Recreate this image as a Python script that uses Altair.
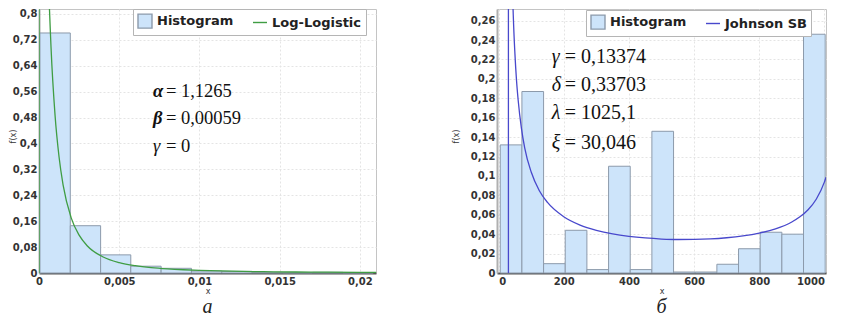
import altair as alt
import pandas as pd

# ---------------- Panel "а": Log-Logistic ----------------
a_bin_start = [0.00006, 0.00195, 0.00384, 0.00572, 0.00761, 0.0095, 0.01139, 0.01328, 0.01517, 0.01705, 0.01894]
a_bin_end = [0.00195, 0.00384, 0.00572, 0.00761, 0.0095, 0.01139, 0.01328, 0.01517, 0.01705, 0.01894, 0.02083]
a_freq = [0.741, 0.146, 0.056, 0.021, 0.0145, 0.006, 0.005, 0.002, 0.001, 0.002, 0.001]

a_curve_x = [0.0, 0.000001, 0.0001, 0.0003, 0.0005, 0.00075, 0.001, 0.00125, 0.0015, 0.002, 0.0025,
             0.003, 0.004, 0.005, 0.006, 0.007, 0.008, 0.009, 0.010, 0.012, 0.014, 0.016, 0.018,
             0.020, 0.021]
a_curve_y = [0.0, 1.61, 2.23, 1.538, 1.054, 0.696, 0.487, 0.358, 0.272, 0.171, 0.117,
             0.0843, 0.0495, 0.0322, 0.0226, 0.0166, 0.0127, 0.0100, 0.0081, 0.0056, 0.0041, 0.0031, 0.0024,
             0.0019, 0.0018]

a_sym = ["α", "β", "γ"]
a_val = ["= 1,1265", "= 0,00059", "= 0"]
a_bold = [True, True, False]
a_txt_x = [0.0071, 0.0071, 0.0071]
a_txt_y = [0.561, 0.478, 0.392]

a_xticks = [0, 0.005, 0.01, 0.015, 0.02]
a_yticks = [0, 0.08, 0.16, 0.24, 0.32, 0.4, 0.48, 0.56, 0.64, 0.72, 0.8]
a_legend = ["Histogram", "Log-Logistic"]

# ---------------- Panel "б": Johnson SB ----------------
b_bin_start = [5, 71.5, 138, 204.5, 271, 337.5, 404, 470.5, 537, 603.5, 670, 736.5, 803, 869.5, 936]
b_bin_end = [71.5, 138, 204.5, 271, 337.5, 404, 470.5, 537, 603.5, 670, 736.5, 803, 869.5, 936, 1002.5]
b_freq = [0.132, 0.187, 0.0096, 0.044, 0.0035, 0.110, 0.0035, 0.146, 0.001, 0.001, 0.009, 0.025, 0.042, 0.040, 0.246]

b_curve_x = [30.046, 30.047, 30.1, 31, 35, 40, 45, 50, 55, 60, 70, 80, 100, 125, 150, 200, 250, 300,
             350, 400, 450, 500, 550, 600, 650, 700, 750, 800, 850, 900, 925, 950, 975, 1000, 1005]
b_curve_y = [0.0, 0.31, 1.03, 0.80, 0.456, 0.329, 0.265, 0.226, 0.198, 0.178, 0.149, 0.129, 0.104, 0.0848,
             0.0727, 0.0580, 0.0494, 0.0440, 0.0403, 0.0378, 0.0361, 0.0350, 0.0345, 0.0346, 0.0351,
             0.0363, 0.0382, 0.0411, 0.0455, 0.0526, 0.0579, 0.0652, 0.0760, 0.0936, 0.0986]

b_sym = ["γ", "δ", "λ", "ξ"]
b_val = ["= 0,13374", "= 0,33703", "= 1025,1", "= 30,046"]
b_bold = [False, False, False, False]
b_txt_x = [163, 163, 163, 163]
b_txt_y = [0.2227, 0.1937, 0.1647, 0.1341]

b_xticks = [0, 200, 400, 600, 800, 1000]
b_yticks = [0, 0.02, 0.04, 0.06, 0.08, 0.1, 0.12, 0.14, 0.16, 0.18, 0.2, 0.22, 0.24, 0.26]
b_legend = ["Histogram", "Johnson SB"]

# ---------------- styling ----------------
LBL = "replace(format(datum.value, '~g'), '.', ',')"
SANS = "DejaVu Sans"
SERIF = "Liberation Serif"
BAR_FILL = "#cde4fa"
BAR_STROKE = "#8c9aab"
GREEN = "#3f9d43"
BLUE = "#4848cc"


def panel(bin_start, bin_end, freq, cx, cy, syms, vals, bold, tx, ty,
          xdom, ydom, xticks, yticks, legend_names, curve_color, legend_x, legend_y,
          sym_size, dx, caption, width, height, ytitle_x, xflush):
    def X(f):
        return alt.X(f, type="quantitative",
                     scale=alt.Scale(domain=xdom, nice=False, zero=False),
                     axis=alt.Axis(values=xticks, labelExpr=LBL, title="x", labelFlush=xflush))

    def Y(f):
        return alt.Y(f, type="quantitative",
                     scale=alt.Scale(domain=ydom, nice=False, zero=False),
                     axis=alt.Axis(values=yticks, labelExpr=LBL, title="f(x)",
                                   titleX=ytitle_x, titleY=127))

    bars_df = pd.DataFrame({"x0": bin_start, "x1": bin_end, "f": freq})
    bars = alt.Chart(bars_df).mark_bar(fill=BAR_FILL, stroke=BAR_STROKE, strokeWidth=1).encode(
        x=X("x0"), x2="x1", y=Y("f"), y2=alt.datum(0))

    curve_df = pd.DataFrame({"cx": cx, "cy": cy})
    curve = alt.Chart(curve_df).mark_line(color=curve_color, strokeWidth=1.3, clip=True,
                                          interpolate="monotone").encode(x=X("cx"), y=Y("cy"))

    txt_df = pd.DataFrame({"tx": tx, "ty": ty, "sym": syms, "val": vals, "bold": bold})
    sym_b = alt.Chart(txt_df).transform_filter("datum.bold").mark_text(
        align="left", baseline="middle", font=SERIF, fontSize=sym_size, fontStyle="italic",
        fontWeight="bold", color="#111").encode(x=X("tx"), y=Y("ty"), text="sym:N")
    sym_i = alt.Chart(txt_df).transform_filter("!datum.bold").mark_text(
        align="left", baseline="middle", font=SERIF, fontSize=sym_size, fontStyle="italic",
        fontWeight="normal", color="#111").encode(x=X("tx"), y=Y("ty"), text="sym:N")
    val = alt.Chart(txt_df).mark_text(
        align="left", baseline="middle", font=SERIF, fontSize=sym_size, dx=dx,
        color="#111").encode(x=X("tx"), y=Y("ty"), text="val:N")

    leg = alt.Legend(orient="none", legendX=legend_x, legendY=legend_y, direction="horizontal",
                     title=None, labelFont=SANS, labelFontSize=13, labelFontWeight="bold",
                     labelColor="#222", symbolSize=196, symbolStrokeWidth=1.4,
                     strokeColor="#b5b5b5", fillColor="white", padding=4, columnPadding=16,
                     labelOffset=4)
    leg_df = pd.DataFrame({"series": legend_names})
    legend_layer = alt.Chart(leg_df).transform_filter("false").mark_point(filled=True, opacity=1).encode(
        shape=alt.Shape("series:N", scale=alt.Scale(domain=legend_names, range=["square", "stroke"]), legend=leg),
        fill=alt.Fill("series:N", scale=alt.Scale(domain=legend_names, range=[BAR_FILL, curve_color]), legend=leg),
        stroke=alt.Stroke("series:N", scale=alt.Scale(domain=legend_names, range=[BAR_STROKE, curve_color]), legend=leg),
    )

    return alt.layer(bars, curve, sym_b, sym_i, val, legend_layer).properties(
        width=width, height=height,
        title=alt.TitleParams(caption, orient="bottom", font=SERIF, fontStyle="italic",
                              fontWeight="normal", fontSize=20, color="#222", offset=2))


left = panel(a_bin_start, a_bin_end, a_freq, a_curve_x, a_curve_y, a_sym, a_val, a_bold,
             a_txt_x, a_txt_y, [0, 0.021], [0, 0.815], a_xticks, a_yticks, a_legend, GREEN,
             94, 0, 18.5, 13, "а", 337, 264, -22, False)
right = panel(b_bin_start, b_bin_end, b_freq, b_curve_x, b_curve_y, b_sym, b_val, b_bold,
              b_txt_x, b_txt_y, [-5, 1005], [0, 0.272], b_xticks, b_yticks, b_legend,
              BLUE, 89, 1, 20, 13, "б", 329, 264, -37, 3)

chart = alt.hconcat(left, right, spacing=74).resolve_scale(
    shape="independent", fill="independent", stroke="independent"
).resolve_legend(shape="independent", fill="independent", stroke="independent").properties(
    padding={"left": 0, "top": 0, "right": 0, "bottom": 0}
).configure_axis(
    labelFont=SANS, labelFontSize=10, labelFontWeight="bold", labelColor="#333",
    titleFont=SANS, titleFontSize=8, titleFontWeight="normal", titleColor="#333",
    gridColor="#e4e4e4", gridDash=[2, 2], ticks=False
).configure_axisX(
    domainColor="#555", domainWidth=2, labelPadding=3, titlePadding=1
).configure_axisY(
    domainColor="#b0b0b0", domainWidth=2, labelPadding=2, titlePadding=2
).configure_view(stroke="#c4c4c4")

chart.save("out.html", embed_options={"renderer": "svg", "actions": False})
